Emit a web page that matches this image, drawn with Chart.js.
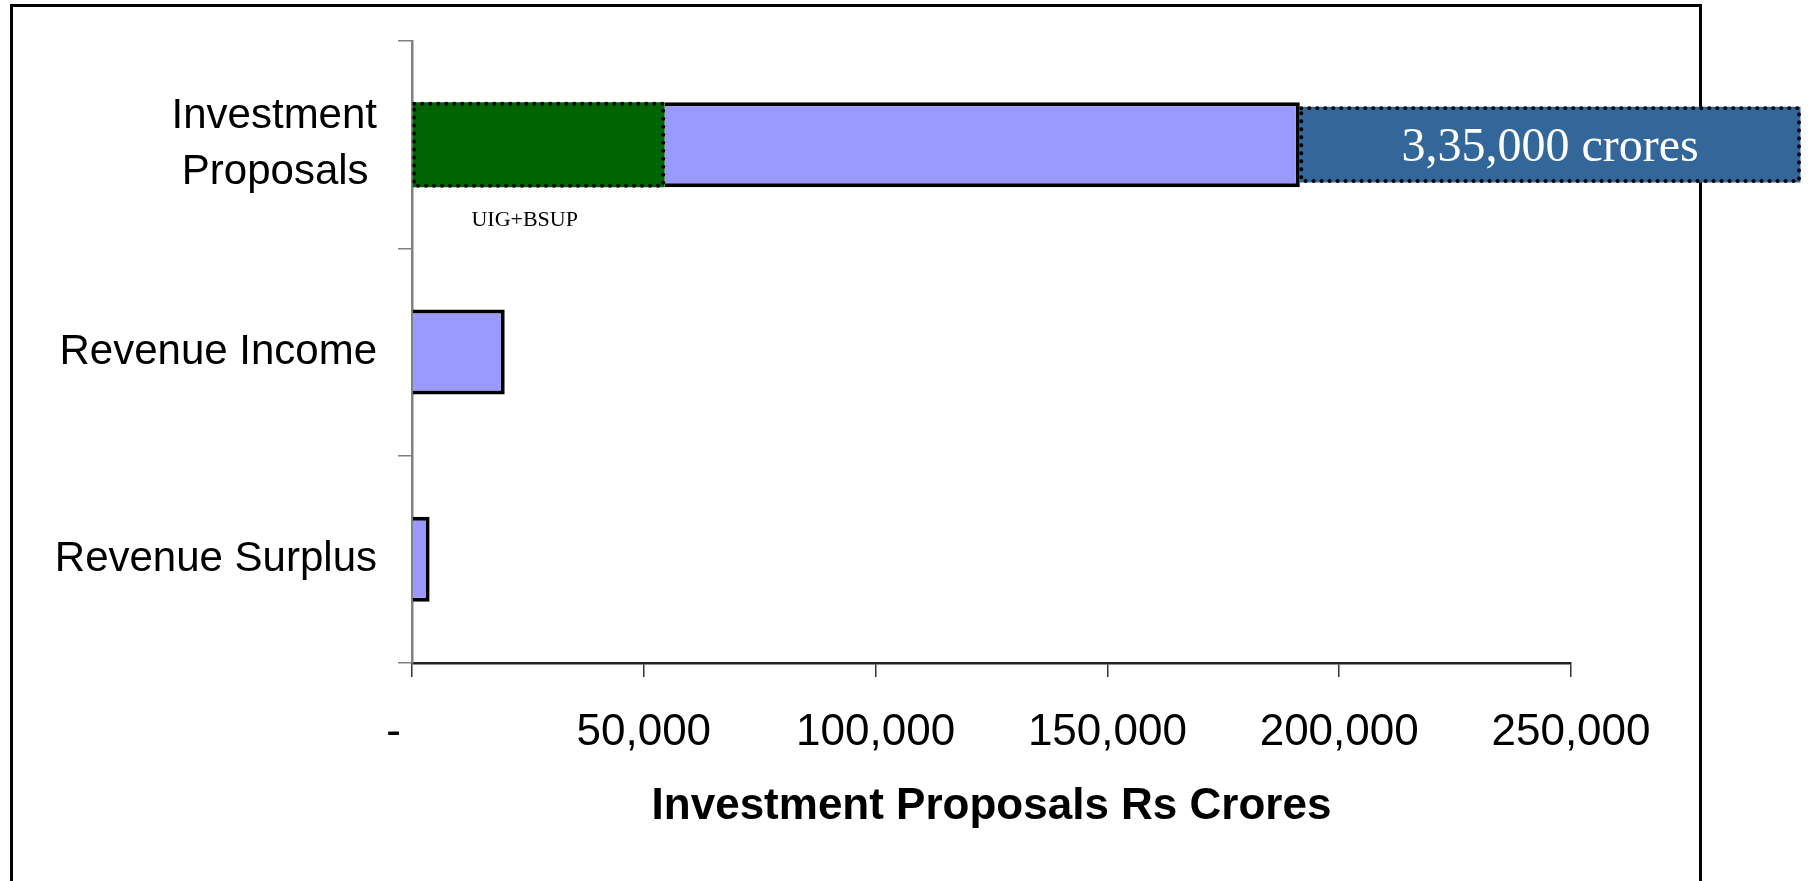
<!DOCTYPE html>
<html>
<head>
<meta charset="utf-8">
<title>Investment Proposals Rs Crores</title>
<script src="https://cdn.jsdelivr.net/npm/chart.js@4"></script>
<style>
    html, body { margin: 0; padding: 0; background: #fff; }
    #wrap { position: relative; width: 1810px; height: 881px; }
</style>
</head>
<body>
<div id="wrap"><canvas id="chart"></canvas></div>
<script>
// Chart data
const categories = [['Investment', 'Proposals\u2009'], 'Revenue Income', 'Revenue Surplus'];
const uigBsup = [54500, null, null];          // green part, labelled UIG+BSUP
const otherInvestment = [137000, 20000, 3800]; // light purple bars
const restOfProposals = [108000, null, null];  // dark blue box, "3,35,000 crores"
const xTicks = [0, 50000, 100000, 150000, 200000, 250000];

const sansFont = "'Liberation Sans', Arial, sans-serif";
const serifFont = "'Liberation Serif', 'Times New Roman', serif";

// Frame round the whole picture
const framePlugin = {
    id: 'frame',
    beforeDraw(chart) {
        const ctx = chart.ctx;
        ctx.save();
        ctx.strokeStyle = '#000';
        ctx.lineWidth = 3;
        ctx.strokeRect(11.5, 5.5, 1689, 900);
        ctx.restore();
    }
};

// Dotted outlines and the two text notes on the top bar
const notesPlugin = {
    id: 'notes',
    afterDatasetsDraw(chart) {
        const ctx = chart.ctx;
        ctx.save();
        chart.data.datasets.forEach((ds, i) => {
            if (!ds.dotted) return;
            const meta = chart.getDatasetMeta(i);
            meta.data.forEach((bar, j) => {
                if (ds.data[j] == null) return;
                const p = bar.getProps(['x', 'y', 'base', 'height'], true);
                const left = Math.min(p.x, p.base);
                const right = Math.max(p.x, p.base);
                const top = p.y - p.height / 2;
                ctx.strokeStyle = '#000';
                ctx.lineWidth = 4;
                ctx.lineCap = 'round';
                ctx.setLineDash([0, 8]);
                ctx.strokeRect(left + 1.5, top + 1.5, right - left - 3, p.height - 3);
                ctx.setLineDash([]);

                if (ds.note) {
                    ctx.fillStyle = ds.noteColor;
                    ctx.font = ds.noteFont;
                    ctx.textAlign = 'center';
                    ctx.textBaseline = 'middle';
                    if (ds.noteInside) {
                        ctx.fillText(ds.note, (left + right) / 2, p.y + 4);
                    } else {
                        ctx.fillText(ds.note, (left + right) / 2 - 14, top + p.height + 33);
                    }
                }
            });
        });
        ctx.restore();
    }
};

const chart = new Chart(document.getElementById('chart'), {
    type: 'bar',
    data: {
        labels: categories,
        datasets: [
            {
                label: 'UIG+BSUP',
                data: uigBsup,
                backgroundColor: '#006400',
                borderWidth: 0,
                dotted: true,
                note: 'UIG+BSUP',
                noteColor: '#000',
                noteFont: '22px ' + serifFont,
                noteInside: false
            },
            {
                label: 'Investment',
                data: otherInvestment,
                backgroundColor: '#9999FF',
                borderColor: '#000',
                borderWidth: 4
            },
            {
                label: '3,35,000 crores',
                data: restOfProposals,
                backgroundColor: '#336699',
                borderWidth: 0,
                barPercentage: 0.366,
                clip: false,
                dotted: true,
                note: '3,35,000 crores',
                noteColor: '#fff',
                noteFont: '48px ' + serifFont,
                noteInside: true
            }
        ]
    },
    options: {
        indexAxis: 'y',
        responsive: true,
        maintainAspectRatio: false,
        animation: false,
        datasets: {
            bar: {
                categoryPercentage: 1,
                barPercentage: 0.41
            }
        },
        layout: {
            padding: { top: 41, right: 239, left: 0, bottom: 0 }
        },
        scales: {
            x: {
                stacked: true,
                min: 0,
                max: 250000,
                afterBuildTicks(scale) {
                    scale.ticks = xTicks.map(v => ({ value: v }));
                },
                afterFit(scale) {
                    scale.height = 218;
                    scale.paddingLeft = 0;
                    scale.paddingRight = 0;
                },
                grid: {
                    drawOnChartArea: false,
                    tickLength: 14,
                    color: '#333',
                    lineWidth: 1.5
                },
                border: { color: '#222', width: 2.5 },
                ticks: {
                    maxRotation: 0,
                    autoSkip: false,
                    padding: 29,
                    color: '#000',
                    font: { family: sansFont, size: 44 },
                    callback: value => value === 0 ? '-   ' : value.toLocaleString('en-US')
                },
                title: {
                    display: true,
                    text: 'Investment Proposals Rs Crores',
                    color: '#000',
                    font: { family: sansFont, size: 44, weight: 'bold' },
                    padding: { top: 0, bottom: 48 }
                }
            },
            y: {
                stacked: true,
                afterFit(scale) {
                    scale.width = 412;
                    scale.paddingTop = 0;
                    scale.paddingBottom = 0;
                },
                grid: {
                    drawOnChartArea: false,
                    tickLength: 14,
                    color: '#808080',
                    lineWidth: 1.5
                },
                border: { color: '#808080', width: 2.5 },
                ticks: {
                    padding: 21,
                    color: '#000',
                    font: { family: sansFont, size: 42, lineHeight: 1.33 }
                }
            }
        },
        plugins: {
            legend: { display: false },
            tooltip: { enabled: false }
        }
    },
    plugins: [framePlugin, notesPlugin]
});
</script>
</body>
</html>
